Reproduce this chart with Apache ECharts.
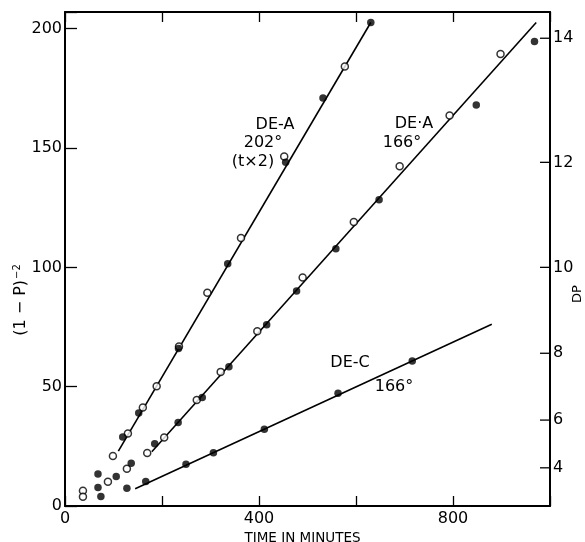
<!DOCTYPE html>
<html>
<head>
<meta charset="utf-8">
<script src="https://cdn.jsdelivr.net/npm/echarts@6/dist/echarts.min.js"></script>
<style>html,body{margin:0;padding:0;background:#fff;}#c{width:585px;height:542px;}</style>
</head>
<body>
<div id="c"></div>
<script>
// Tick labels
var xLabelValues = [0, 400, 800];
var yLabelValues = [0, 50, 100, 150, 200];
var dpTicks = [4, 6, 8, 10, 12, 14];

// Fitted lines (endpoints)
var lineDEA202 = [[110, 23], [630.5, 202.6]];
var lineDEA166 = [[179, 22.7], [971.6, 202.6]];
var lineDEC166 = [[144.7, 7.2], [880, 76.2]];

// Open circles
var openPts = [
  [37, 6.4], [37, 3.9], [88.5, 10.2], [98.8, 21], [127.6, 15.6],
  [129.7, 30.4], [160.5, 41.3], [189, 50.2], [235, 66.8], [293.5, 89.4],
  [362.9, 112.3], [452, 146.5], [577, 184.2],
  [169.5, 22.2], [204.5, 28.7], [271.7, 44.4], [321, 56.2], [396.5, 73.2],
  [490, 95.7], [595.5, 119], [690, 142.4], [793, 163.6], [898, 189.4]
];
// Filled circles
var filledPts = [
  [68, 13.4], [68, 7.7], [74, 4], [105.6, 12.4], [136.5, 17.9],
  [119, 28.9], [152, 39], [234, 66], [335.5, 101.5], [455, 144], [532, 171], [630.5, 202.6],
  [185, 26.1], [233.3, 35], [283, 45.5], [338, 58.3], [415.8, 76], [477.5, 90.1],
  [558.5, 107.8], [647.6, 128.3], [848, 168], [968, 194.6],
  [127.6, 7.4], [166.5, 10.3], [249.5, 17.5], [306, 22.3], [411, 32.2], [563, 47.2], [716, 60.8]
];

var FONT = 'DejaVu Sans';
var X_MAX = 1000, Y_MAX = 207;
var chart = echarts.init(document.getElementById('c'), null, {renderer: 'canvas'});
var lineStyle = {color: '#000', width: 1.6};
var axisLineStyle = {onZero: false, lineStyle: {color: '#000', width: 2}};
var tickStyle = {color: '#000', width: 1.3};
var dpValues = dpTicks.map(function (d) { return d * d; });

function txt(x, y, s, size, rot) {
  return {type: 'text', x: x, y: y, rotation: rot || 0,
    style: {text: s, font: (size || 16) + 'px "' + FONT + '"', fill: '#000', textAlign: 'center', textVerticalAlign: 'middle'}};
}

chart.setOption({
  animation: false,
  backgroundColor: '#fff',
  grid: {left: 65, right: 35, top: 12, bottom: 36, containLabel: false, outerBoundsMode: 'none'},
  xAxis: [{
    type: 'value', min: 0, max: X_MAX, interval: 200, position: 'bottom',
    axisLine: axisLineStyle, splitLine: {show: false},
    axisTick: {inside: true, length: 10, lineStyle: tickStyle},
    axisLabel: {customValues: xLabelValues, color: '#000', fontFamily: FONT, fontSize: 16, margin: 5},
    name: 'TIME IN MINUTES', nameLocation: 'middle', nameGap: 23,
    nameTextStyle: {color: '#000', fontFamily: FONT, fontSize: 13.5, padding: [0, 10, 0, 0]}
  }, {
    type: 'value', min: 0, max: X_MAX, interval: 200, position: 'top',
    axisLine: axisLineStyle, splitLine: {show: false},
    axisTick: {inside: true, length: 10, lineStyle: tickStyle},
    axisLabel: {show: false}
  }],
  yAxis: [{
    type: 'value', min: 0, max: Y_MAX, interval: 50, position: 'left',
    axisLine: axisLineStyle, splitLine: {show: false},
    axisTick: {inside: true, length: 12, lineStyle: tickStyle},
    axisLabel: {customValues: yLabelValues, color: '#000', fontFamily: FONT, fontSize: 16, margin: 3}
  }, {
    type: 'value', min: 0, max: Y_MAX, position: 'right',
    axisLine: axisLineStyle, splitLine: {show: false},
    axisTick: {show: false},
    axisLabel: {customValues: dpValues, color: '#000', fontFamily: FONT, fontSize: 16, margin: 3,
      formatter: function (v) { return String(Math.round(Math.sqrt(v))); }}
  }],
  graphic: [
    {type: 'text', x: 21, y: 300, rotation: Math.PI / 2,
     style: {text: '{a|(1 − P)}{b|−2}', textAlign: 'center', textVerticalAlign: 'middle',
       rich: {a: {fontFamily: FONT, fontSize: 16, fill: '#000'}, b: {fontFamily: FONT, fontSize: 10, fill: '#000', verticalAlign: 'top', padding: [0, 0, 8, 1]}}}},
    txt(578, 294, 'DP', 13, Math.PI / 2),
    txt(275, 125, 'DE-A'),
    txt(263, 143, '202°'),
    txt(253, 162, '(t×2)'),
    txt(414, 124, 'DE·A'),
    txt(402, 143, '166°'),
    txt(350, 363, 'DE-C'),
    txt(394, 387, '166°')
  ],
  series: [
    {type: 'line', data: lineDEA202, showSymbol: false, lineStyle: lineStyle, z: 2},
    {type: 'line', data: lineDEA166, showSymbol: false, lineStyle: lineStyle, z: 2},
    {type: 'line', data: lineDEC166, showSymbol: false, lineStyle: lineStyle, z: 2},
    {type: 'scatter', data: openPts, symbol: 'circle', symbolSize: 7,
     itemStyle: {color: '#fff', borderColor: '#000', borderWidth: 1.5}, z: 3},
    {type: 'scatter', data: filledPts, symbol: 'circle', symbolSize: 7.5,
     itemStyle: {color: '#000'}, z: 4},
    // DP ticks on the right axis, placed through the value scale (DP^2)
    {type: 'custom', data: dpValues, silent: true, z: 5,
     encode: {y: 0},
     renderItem: function (params, api) {
       var p = api.coord([X_MAX, api.value(0)]);
       return {type: 'line', shape: {x1: p[0] - 10, y1: p[1], x2: p[0], y2: p[1]},
               style: {stroke: '#000', lineWidth: 1.3}};
     }}
  ]
});
</script>
</body>
</html>
